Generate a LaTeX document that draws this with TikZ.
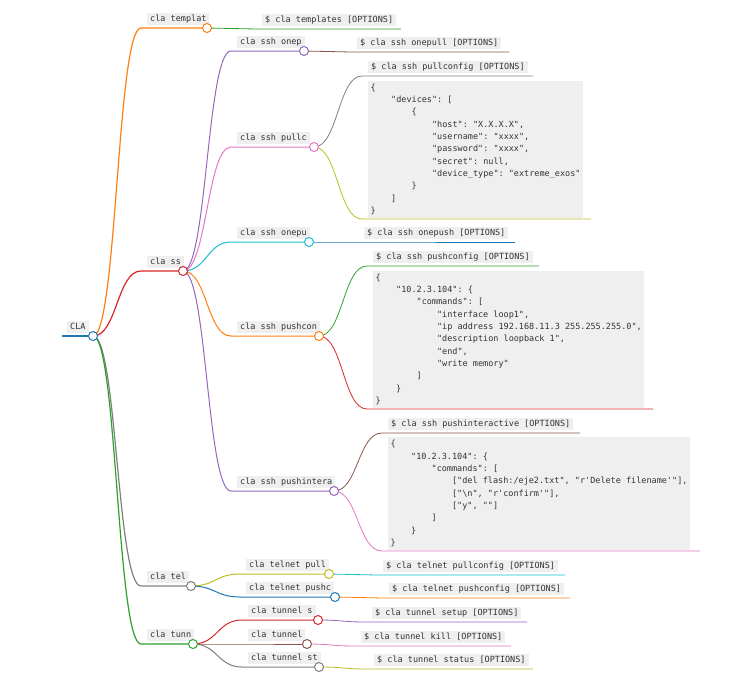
\documentclass[tikz,border=0pt]{standalone}
\usepackage{fontspec}
\setmonofont{DejaVu Sans Mono}
\usetikzlibrary{positioning,calc}
\definecolor{CatBlue}{RGB}{31,119,180}
\definecolor{CatOrange}{RGB}{255,127,14}
\definecolor{CatGreen}{RGB}{44,160,44}
\definecolor{CatRed}{RGB}{214,39,40}
\definecolor{CatPurple}{RGB}{148,103,189}
\definecolor{CatBrown}{RGB}{140,86,75}
\definecolor{CatPink}{RGB}{227,119,194}
\definecolor{CatGray}{RGB}{127,127,127}
\definecolor{CatOlive}{RGB}{188,189,34}
\definecolor{CatCyan}{RGB}{23,190,207}
\definecolor{TagGray}{RGB}{239,239,239}
\definecolor{InkGray}{RGB}{51,51,51}
\tikzset{
  tag/.style={fill=TagGray,text=InkGray,font=\ttfamily\fontsize{8.5}{10}\selectfont,
    inner xsep=3pt,inner ysep=2pt,text height=6.6pt,text depth=2pt},
  codebox/.style={fill=TagGray,text=InkGray,font=\ttfamily\fontsize{8.5}{12.33}\selectfont,
    align=left,inner xsep=2.5pt,inner ysep=3pt},
  knob/.style={circle,draw=#1,fill=white,line width=1pt,inner sep=0pt,minimum size=9pt},
  rootline/.style={line width=1.6pt,draw=#1},
  trunk/.style={line width=1.2pt,draw=#1},
  limb/.style={line width=1pt,draw=#1},
  twig/.style={line width=0.8pt,draw=#1},
  branch/.style={to path={let \p1=(\tikztostart),\p2=(\tikztotarget) in
    .. controls ({(\x1+\x2)/2},\y1) and ({(\x1+\x2)/2},\y2) .. (\tikztotarget)}}
}
\newcommand\cind{\hphantom{0000}}

\begin{document}
\begin{tikzpicture}[x=1pt,y=-1pt]
\useasboundingbox (0,0) rectangle (744,688);

% branch points: -a is where the underline starts, the bare name is the knob
\coordinate (cla-a) at (62,336);     \coordinate (cla) at (93,336);
\coordinate (tpl-a) at (141,28);     \coordinate (tpl) at (207,28);
\coordinate (ssh-a) at (141,271);    \coordinate (ssh) at (183,271);
\coordinate (tel-a) at (141,586);    \coordinate (tel) at (191,586);
\coordinate (tun-a) at (141,644);    \coordinate (tun) at (193,644);

\coordinate (opull-a) at (231,51);   \coordinate (opull) at (304,51);
\coordinate (pcfg-a) at (231,147);   \coordinate (pcfg) at (314,147);
\coordinate (opush-a) at (231,242);  \coordinate (opush) at (309,242);
\coordinate (pscfg-a) at (231,336);  \coordinate (pscfg) at (319,336);
\coordinate (pint-a) at (231,491);   \coordinate (pint) at (334,491);

\coordinate (tpull-a) at (240,574);  \coordinate (tpull) at (329,574);
\coordinate (tpush-a) at (240,597);  \coordinate (tpush) at (335,597);
\coordinate (tset-a) at (242,620);   \coordinate (tset) at (318,620);
\coordinate (tkill-a) at (242,644);  \coordinate (tkill) at (307,644);
\coordinate (tstat-a) at (242,667);  \coordinate (tstat) at (319,667);

% leaves
\coordinate (tplx-a) at (256,29);    \coordinate (tplx-b) at (401,29);
\coordinate (opullx-a) at (351,52);  \coordinate (opullx-b) at (509,52);
\coordinate (pcfgx-a) at (362,76);   \coordinate (pcfgx-b) at (533,76);
\coordinate (pcfgc-a) at (362,219);  \coordinate (pcfgc-b) at (591,219);
\coordinate (opushx-a) at (358,242); \coordinate (opushx-b) at (515,242);
\coordinate (pscfgx-a) at (367,266); \coordinate (pscfgx-b) at (539,266);
\coordinate (pscfgc-a) at (367,409); \coordinate (pscfgc-b) at (653,409);
\coordinate (pintx-a) at (382,433);  \coordinate (pintx-b) at (580,433);
\coordinate (pintc-a) at (382,551);  \coordinate (pintc-b) at (700,551);
\coordinate (tpullx-a) at (377,575); \coordinate (tpullx-b) at (565,575);
\coordinate (tpushx-a) at (383,598); \coordinate (tpushx-b) at (570,598);
\coordinate (tsetx-a) at (366,622);  \coordinate (tsetx-b) at (527,622);
\coordinate (tkillx-a) at (355,646); \coordinate (tkillx-b) at (511,646);
\coordinate (tstatx-a) at (368,669); \coordinate (tstatx-b) at (533,669);

% links
\draw[rootline=CatBlue] (cla-a) -- (cla);
\draw[trunk=CatOrange] (cla) to[branch] (tpl-a) -- (tpl);
\draw[trunk=CatRed] (cla) to[branch] (ssh-a) -- (ssh);
\draw[trunk=CatGray] (cla) to[branch] (tel-a) -- (tel);
\draw[trunk=CatGreen] (cla) to[branch] (tun-a) -- (tun);

\draw[limb=CatPurple] (ssh) to[branch] (opull-a) -- (opull);
\draw[limb=CatPink] (ssh) to[branch] (pcfg-a) -- (pcfg);
\draw[limb=CatCyan] (ssh) to[branch] (opush-a) -- (opush);
\draw[limb=CatOrange] (ssh) to[branch] (pscfg-a) -- (pscfg);
\draw[limb=CatPurple] (ssh) to[branch] (pint-a) -- (pint);
\draw[limb=CatOlive] (tel) to[branch] (tpull-a) -- (tpull);
\draw[limb=CatBlue] (tel) to[branch] (tpush-a) -- (tpush);
\draw[limb=CatRed] (tun) to[branch] (tset-a) -- (tset);
\draw[limb=CatBrown] (tun) to[branch] (tkill-a) -- (tkill);
\draw[limb=CatGray] (tun) to[branch] (tstat-a) -- (tstat);

\draw[twig=CatGreen] (tpl) to[branch] (tplx-a) -- (tplx-b);
\draw[twig=CatBrown] (opull) to[branch] (opullx-a) -- (opullx-b);
\draw[twig=CatGray] (pcfg) to[branch] (pcfgx-a) -- (pcfgx-b);
\draw[twig=CatOlive] (pcfg) to[branch] (pcfgc-a) -- (pcfgc-b);
\draw[twig=CatBlue] (opush) to[branch] (opushx-a) -- (opushx-b);
\draw[twig=CatGreen] (pscfg) to[branch] (pscfgx-a) -- (pscfgx-b);
\draw[twig=CatRed] (pscfg) to[branch] (pscfgc-a) -- (pscfgc-b);
\draw[twig=CatBrown] (pint) to[branch] (pintx-a) -- (pintx-b);
\draw[twig=CatPink] (pint) to[branch] (pintc-a) -- (pintc-b);
\draw[twig=CatCyan] (tpull) to[branch] (tpullx-a) -- (tpullx-b);
\draw[twig=CatOrange] (tpush) to[branch] (tpushx-a) -- (tpushx-b);
\draw[twig=CatPurple] (tset) to[branch] (tsetx-a) -- (tsetx-b);
\draw[twig=CatPink] (tkill) to[branch] (tkillx-a) -- (tkillx-b);
\draw[twig=CatOlive] (tstat) to[branch] (tstatx-a) -- (tstatx-b);

% labels
\node[tag,above right=2.5pt and 5pt of cla-a] (cla-t) {CLA};
\node[tag,above right=2.5pt and 6pt of tpl-a] (tpl-t) {cla templat};
\node[tag,above right=2.5pt and 6pt of ssh-a] (ssh-t) {cla ss};
\node[tag,above right=2.5pt and 6pt of tel-a] (tel-t) {cla tel};
\node[tag,above right=2.5pt and 6pt of tun-a] (tun-t) {cla tunn};

\node[tag,above right=2.5pt and 6pt of opull-a] (opull-t) {cla ssh onep};
\node[tag,above right=2.5pt and 6pt of pcfg-a] (pcfg-t) {cla ssh pullc};
\node[tag,above right=2.5pt and 6pt of opush-a] (opush-t) {cla ssh onepu};
\node[tag,above right=2.5pt and 6pt of pscfg-a] (pscfg-t) {cla ssh pushcon};
\node[tag,above right=2.5pt and 6pt of pint-a] (pint-t) {cla ssh pushintera};
\node[tag,above right=2.5pt and 6pt of tpull-a] (tpull-t) {cla telnet pull};
\node[tag,above right=2.5pt and 6pt of tpush-a] (tpush-t) {cla telnet pushc};
\node[tag,above right=2.5pt and 6pt of tset-a] (tset-t) {cla tunnel s};
\node[tag,above right=2.5pt and 6pt of tkill-a] (tkill-t) {cla tunnel};
\node[tag,above right=2.5pt and 6pt of tstat-a] (tstat-t) {cla tunnel st};

\node[tag,above right=2.5pt and 6pt of tplx-a] (tplx-t) {\$ cla templates [OPTIONS]};
\node[tag,above right=2.5pt and 6pt of opullx-a] (opullx-t) {\$ cla ssh onepull [OPTIONS]};
\node[tag,above right=2.5pt and 6pt of pcfgx-a] (pcfgx-t) {\$ cla ssh pullconfig [OPTIONS]};
\node[tag,above right=2.5pt and 6pt of opushx-a] (opushx-t) {\$ cla ssh onepush [OPTIONS]};
\node[tag,above right=2.5pt and 6pt of pscfgx-a] (pscfgx-t) {\$ cla ssh pushconfig [OPTIONS]};
\node[tag,above right=2.5pt and 6pt of pintx-a] (pintx-t) {\$ cla ssh pushinteractive [OPTIONS]};
\node[tag,above right=2.5pt and 6pt of tpullx-a] (tpullx-t) {\$ cla telnet pullconfig [OPTIONS]};
\node[tag,above right=2.5pt and 6pt of tpushx-a] (tpushx-t) {\$ cla telnet pushconfig [OPTIONS]};
\node[tag,above right=2.5pt and 6pt of tsetx-a] (tsetx-t) {\$ cla tunnel setup [OPTIONS]};
\node[tag,above right=2.5pt and 6pt of tkillx-a] (tkillx-t) {\$ cla tunnel kill [OPTIONS]};
\node[tag,above right=2.5pt and 6pt of tstatx-a] (tstatx-t) {\$ cla tunnel status [OPTIONS]};

% code blocks
\node[codebox,above right=1pt and 6pt of pcfgc-a] (pcfgc-t) {\{\\
\cind"devices": [\\
\cind\cind\{\\
\cind\cind\cind"host": "X.X.X.X",\\
\cind\cind\cind"username": "xxxx",\\
\cind\cind\cind"password": "xxxx",\\
\cind\cind\cind"secret": null,\\
\cind\cind\cind"device\_type": "extreme\_exos"\\
\cind\cind\}\\
\cind]\\
\}};
\node[codebox,above right=1pt and 6pt of pscfgc-a] (pscfgc-t) {\{\\
\cind"10.2.3.104": \{\\
\cind\cind"commands": [\\
\cind\cind\cind"interface loop1",\\
\cind\cind\cind"ip address 192.168.11.3 255.255.255.0",\\
\cind\cind\cind"description loopback 1",\\
\cind\cind\cind"end",\\
\cind\cind\cind"write memory"\\
\cind\cind]\\
\cind\}\\
\}};
\node[codebox,above right=1pt and 6pt of pintc-a] (pintc-t) {\{\\
\cind"10.2.3.104": \{\\
\cind\cind"commands": [\\
\cind\cind\cind["del flash:/eje2.txt", "r'Delete filename'"],\\
\cind\cind\cind["\textbackslash n", "r'confirm'"],\\
\cind\cind\cind["y", ""]\\
\cind\cind]\\
\cind\}\\
\}};

% knobs
\node[knob=CatBlue] (cla-o) at (cla) {};
\node[knob=CatOrange] (tpl-o) at (tpl) {};
\node[knob=CatRed] (ssh-o) at (ssh) {};
\node[knob=CatGray] (tel-o) at (tel) {};
\node[knob=CatGreen] (tun-o) at (tun) {};
\node[knob=CatPurple] (opull-o) at (opull) {};
\node[knob=CatPink] (pcfg-o) at (pcfg) {};
\node[knob=CatCyan] (opush-o) at (opush) {};
\node[knob=CatOrange] (pscfg-o) at (pscfg) {};
\node[knob=CatPurple] (pint-o) at (pint) {};
\node[knob=CatOlive] (tpull-o) at (tpull) {};
\node[knob=CatBlue] (tpush-o) at (tpush) {};
\node[knob=CatRed] (tset-o) at (tset) {};
\node[knob=CatBrown] (tkill-o) at (tkill) {};
\node[knob=CatGray] (tstat-o) at (tstat) {};

\end{tikzpicture}
\end{document}
